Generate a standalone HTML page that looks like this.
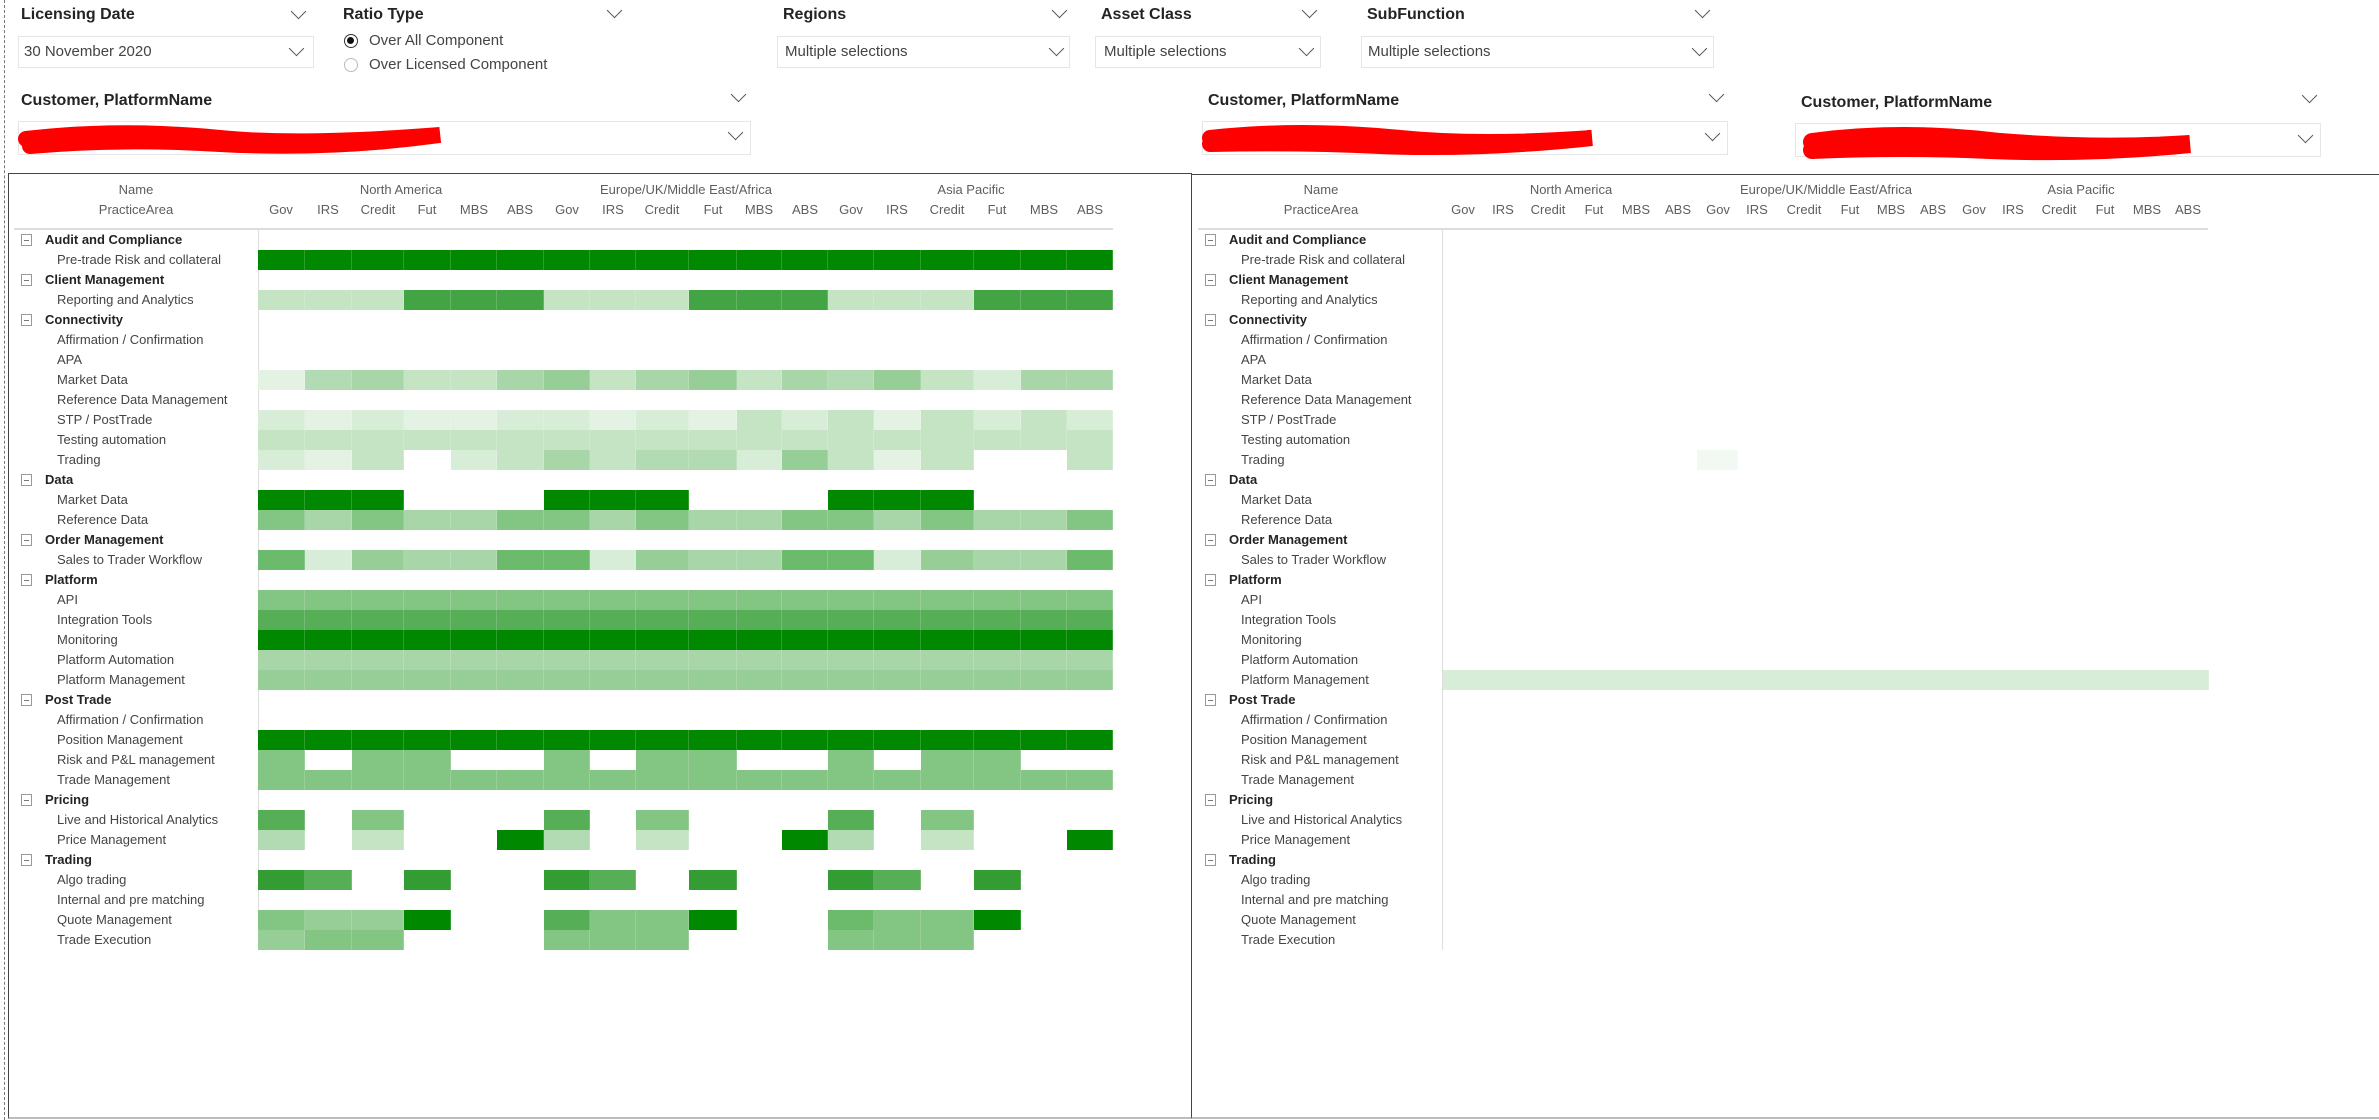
<!DOCTYPE html>
<html><head><meta charset="utf-8"><style>
*{margin:0;padding:0;box-sizing:border-box}
body{width:2379px;height:1120px;background:#fff;position:relative;overflow:hidden;font-family:"Liberation Sans",sans-serif;color:#252423}
.a{position:absolute;white-space:nowrap}
.t{font-size:16px;font-weight:bold;color:#252423}
.chev{position:absolute;width:11px;height:11px;border-right:1.5px solid #555;border-bottom:1.5px solid #555;transform:rotate(45deg)}
.box{position:absolute;border:1px solid #e6e6e6;background:#fff}
.bt{position:absolute;font-size:15px;color:#444;white-space:nowrap}
.lbl{position:absolute;font-size:13px;line-height:20px;color:#444;white-space:nowrap}
.lbl div{height:20px}
.lbl .g{font-weight:bold;color:#252423;padding-left:0}
.ic{display:inline-block;width:11px;height:12px;border:1px solid #999;position:absolute;margin-top:4px}
.ic:after{content:"";position:absolute;left:2px;right:2px;top:5px;height:1px;background:#777}
.hd{position:absolute;font-size:13px;color:#605e5c;white-space:nowrap;transform:translateX(-50%)}
.cell{position:absolute;height:20px;border-right:1px solid rgba(255,255,255,0.18)}
</style></head><body>
<div class="a" style="left:4px;top:0;width:0;height:1120px;border-left:1px dashed #777"></div>

<div class="a t" style="left:21px;top:6px">Licensing Date</div><div class="chev" style="left:293px;top:6px"></div>
<div class="box" style="left:18px;top:36px;width:296px;height:32px"></div><div class="bt" style="left:24px;top:43px">30 November 2020</div><div class="chev" style="left:291px;top:43px"></div>

<div class="a t" style="left:343px;top:6px">Ratio Type</div><div class="chev" style="left:609px;top:5px"></div>
<div class="a" style="left:344px;top:34px;width:14px;height:14px;border-radius:50%;border:1.5px solid #333"><div style="position:absolute;left:2px;top:2px;width:7px;height:7px;border-radius:50%;background:#111"></div></div>
<div class="bt" style="left:369px;top:32px">Over All Component</div>
<div class="a" style="left:344px;top:58px;width:14px;height:14px;border-radius:50%;border:1px solid #bbb"></div>
<div class="bt" style="left:369px;top:56px">Over Licensed Component</div>

<div class="a t" style="left:783px;top:6px">Regions</div><div class="chev" style="left:1054px;top:5px"></div>
<div class="box" style="left:777px;top:36px;width:293px;height:32px"></div><div class="bt" style="left:785px;top:43px">Multiple selections</div><div class="chev" style="left:1051px;top:43px"></div>

<div class="a t" style="left:1101px;top:6px">Asset Class</div><div class="chev" style="left:1304px;top:5px"></div>
<div class="box" style="left:1095px;top:36px;width:226px;height:32px"></div><div class="bt" style="left:1104px;top:43px">Multiple selections</div><div class="chev" style="left:1301px;top:43px"></div>

<div class="a t" style="left:1367px;top:6px">SubFunction</div><div class="chev" style="left:1697px;top:5px"></div>
<div class="box" style="left:1361px;top:36px;width:353px;height:32px"></div><div class="bt" style="left:1368px;top:43px">Multiple selections</div><div class="chev" style="left:1694px;top:43px"></div>

<div class="a t" style="left:21px;top:92px">Customer, PlatformName</div><div class="chev" style="left:733px;top:89px"></div>
<div class="box" style="left:18px;top:121px;width:733px;height:34px"></div><div class="chev" style="left:730px;top:127px"></div>
<div class="a t" style="left:1208px;top:92px">Customer, PlatformName</div><div class="chev" style="left:1711px;top:89px"></div>
<div class="box" style="left:1202px;top:121px;width:526px;height:34px"></div><div class="chev" style="left:1707px;top:128px"></div>
<div class="a t" style="left:1801px;top:94px">Customer, PlatformName</div><div class="chev" style="left:2304px;top:90px"></div>
<div class="box" style="left:1795px;top:123px;width:526px;height:34px"></div><div class="chev" style="left:2300px;top:130px"></div>

<svg class="a" style="left:0;top:0" width="2379" height="180">
<path d="M26 139 Q120 128 220 138 Q300 146 440 135 Q330 150 220 144 Q120 138 30 146" stroke="#f00" stroke-width="16" fill="none" stroke-linecap="round"/>
<path d="M1210 138 Q1300 128 1400 138 Q1480 146 1592 138 Q1480 150 1380 146 Q1300 142 1210 144" stroke="#f00" stroke-width="16" fill="none" stroke-linecap="round"/>
<path d="M1812 142 Q1900 130 2000 142 Q2100 150 2190 144 Q2090 154 1990 150 Q1900 146 1812 150" stroke="#f00" stroke-width="18" fill="none" stroke-linecap="round"/>
</svg>

<div class="a" style="left:8px;top:173px;width:1184px;height:946px;border:1px solid #444;border-bottom:2px solid #bbb"></div>
<div class="a" style="left:1191px;top:174px;width:1188px;height:945px;border-left:1px solid #444;border-top:1px solid #444;border-bottom:2px solid #bbb"></div>

<div class="hd" style="left:136px;top:182px">Name</div>
<div class="hd" style="left:136px;top:202px">PracticeArea</div>
<div class="hd" style="left:401px;top:182px">North America</div>
<div class="hd" style="left:686px;top:182px">Europe/UK/Middle East/Africa</div>
<div class="hd" style="left:971px;top:182px">Asia Pacific</div>
<div class="a" style="left:14px;top:228px;width:1099px;height:2px;background:#ddd"></div>
<div class="a" style="left:258px;top:230px;width:1px;height:720px;background:#ddd"></div>

<div class="hd" style="left:1321px;top:182px">Name</div>
<div class="hd" style="left:1321px;top:202px">PracticeArea</div>
<div class="hd" style="left:1571px;top:182px">North America</div>
<div class="hd" style="left:1826px;top:182px">Europe/UK/Middle East/Africa</div>
<div class="hd" style="left:2081px;top:182px">Asia Pacific</div>
<div class="a" style="left:1198px;top:228px;width:1010px;height:2px;background:#ddd"></div>
<div class="a" style="left:1442px;top:230px;width:1px;height:720px;background:#ddd"></div>

<div class="lbl" style="left:21px;top:230px">
<div class="g"><span class="ic"></span><span style="padding-left:24px">Audit and Compliance</span></div>
<div style="padding-left:36px">Pre-trade Risk and collateral</div>
<div class="g"><span class="ic"></span><span style="padding-left:24px">Client Management</span></div>
<div style="padding-left:36px">Reporting and Analytics</div>
<div class="g"><span class="ic"></span><span style="padding-left:24px">Connectivity</span></div>
<div style="padding-left:36px">Affirmation / Confirmation</div>
<div style="padding-left:36px">APA</div>
<div style="padding-left:36px">Market Data</div>
<div style="padding-left:36px">Reference Data Management</div>
<div style="padding-left:36px">STP / PostTrade</div>
<div style="padding-left:36px">Testing automation</div>
<div style="padding-left:36px">Trading</div>
<div class="g"><span class="ic"></span><span style="padding-left:24px">Data</span></div>
<div style="padding-left:36px">Market Data</div>
<div style="padding-left:36px">Reference Data</div>
<div class="g"><span class="ic"></span><span style="padding-left:24px">Order Management</span></div>
<div style="padding-left:36px">Sales to Trader Workflow</div>
<div class="g"><span class="ic"></span><span style="padding-left:24px">Platform</span></div>
<div style="padding-left:36px">API</div>
<div style="padding-left:36px">Integration Tools</div>
<div style="padding-left:36px">Monitoring</div>
<div style="padding-left:36px">Platform Automation</div>
<div style="padding-left:36px">Platform Management</div>
<div class="g"><span class="ic"></span><span style="padding-left:24px">Post Trade</span></div>
<div style="padding-left:36px">Affirmation / Confirmation</div>
<div style="padding-left:36px">Position Management</div>
<div style="padding-left:36px">Risk and P&amp;L management</div>
<div style="padding-left:36px">Trade Management</div>
<div class="g"><span class="ic"></span><span style="padding-left:24px">Pricing</span></div>
<div style="padding-left:36px">Live and Historical Analytics</div>
<div style="padding-left:36px">Price Management</div>
<div class="g"><span class="ic"></span><span style="padding-left:24px">Trading</span></div>
<div style="padding-left:36px">Algo trading</div>
<div style="padding-left:36px">Internal and pre matching</div>
<div style="padding-left:36px">Quote Management</div>
<div style="padding-left:36px">Trade Execution</div>
</div>

<div class="lbl" style="left:1205px;top:230px">
<div class="g"><span class="ic"></span><span style="padding-left:24px">Audit and Compliance</span></div>
<div style="padding-left:36px">Pre-trade Risk and collateral</div>
<div class="g"><span class="ic"></span><span style="padding-left:24px">Client Management</span></div>
<div style="padding-left:36px">Reporting and Analytics</div>
<div class="g"><span class="ic"></span><span style="padding-left:24px">Connectivity</span></div>
<div style="padding-left:36px">Affirmation / Confirmation</div>
<div style="padding-left:36px">APA</div>
<div style="padding-left:36px">Market Data</div>
<div style="padding-left:36px">Reference Data Management</div>
<div style="padding-left:36px">STP / PostTrade</div>
<div style="padding-left:36px">Testing automation</div>
<div style="padding-left:36px">Trading</div>
<div class="g"><span class="ic"></span><span style="padding-left:24px">Data</span></div>
<div style="padding-left:36px">Market Data</div>
<div style="padding-left:36px">Reference Data</div>
<div class="g"><span class="ic"></span><span style="padding-left:24px">Order Management</span></div>
<div style="padding-left:36px">Sales to Trader Workflow</div>
<div class="g"><span class="ic"></span><span style="padding-left:24px">Platform</span></div>
<div style="padding-left:36px">API</div>
<div style="padding-left:36px">Integration Tools</div>
<div style="padding-left:36px">Monitoring</div>
<div style="padding-left:36px">Platform Automation</div>
<div style="padding-left:36px">Platform Management</div>
<div class="g"><span class="ic"></span><span style="padding-left:24px">Post Trade</span></div>
<div style="padding-left:36px">Affirmation / Confirmation</div>
<div style="padding-left:36px">Position Management</div>
<div style="padding-left:36px">Risk and P&amp;L management</div>
<div style="padding-left:36px">Trade Management</div>
<div class="g"><span class="ic"></span><span style="padding-left:24px">Pricing</span></div>
<div style="padding-left:36px">Live and Historical Analytics</div>
<div style="padding-left:36px">Price Management</div>
<div class="g"><span class="ic"></span><span style="padding-left:24px">Trading</span></div>
<div style="padding-left:36px">Algo trading</div>
<div style="padding-left:36px">Internal and pre matching</div>
<div style="padding-left:36px">Quote Management</div>
<div style="padding-left:36px">Trade Execution</div>
</div>

<div class="hd" style="left:281px;top:202px">Gov</div><div class="hd" style="left:328px;top:202px">IRS</div><div class="hd" style="left:378px;top:202px">Credit</div><div class="hd" style="left:427px;top:202px">Fut</div><div class="hd" style="left:474px;top:202px">MBS</div><div class="hd" style="left:520px;top:202px">ABS</div>
<div class="hd" style="left:567px;top:202px">Gov</div><div class="hd" style="left:613px;top:202px">IRS</div><div class="hd" style="left:662px;top:202px">Credit</div><div class="hd" style="left:713px;top:202px">Fut</div><div class="hd" style="left:759px;top:202px">MBS</div><div class="hd" style="left:805px;top:202px">ABS</div>
<div class="hd" style="left:851px;top:202px">Gov</div><div class="hd" style="left:897px;top:202px">IRS</div><div class="hd" style="left:947px;top:202px">Credit</div><div class="hd" style="left:997px;top:202px">Fut</div><div class="hd" style="left:1044px;top:202px">MBS</div><div class="hd" style="left:1090px;top:202px">ABS</div>

<div class="hd" style="left:1463px;top:202px">Gov</div><div class="hd" style="left:1503px;top:202px">IRS</div><div class="hd" style="left:1548px;top:202px">Credit</div><div class="hd" style="left:1594px;top:202px">Fut</div><div class="hd" style="left:1636px;top:202px">MBS</div><div class="hd" style="left:1678px;top:202px">ABS</div>
<div class="hd" style="left:1718px;top:202px">Gov</div><div class="hd" style="left:1757px;top:202px">IRS</div><div class="hd" style="left:1804px;top:202px">Credit</div><div class="hd" style="left:1850px;top:202px">Fut</div><div class="hd" style="left:1891px;top:202px">MBS</div><div class="hd" style="left:1933px;top:202px">ABS</div>
<div class="hd" style="left:1974px;top:202px">Gov</div><div class="hd" style="left:2013px;top:202px">IRS</div><div class="hd" style="left:2059px;top:202px">Credit</div><div class="hd" style="left:2105px;top:202px">Fut</div><div class="hd" style="left:2147px;top:202px">MBS</div><div class="hd" style="left:2188px;top:202px">ABS</div>

<div id="cells"></div>
<script>
var X=[258,304.5,352,404,451,497,544,590,636,689,737,782,828,874,921,974,1021,1067,1113];
var P={D:'#008800',a:'#e3f2e3',b:'#d8edd8',c:'#c4e4c4',d:'#b3dbb3',e:'#a8d6a8',f:'#97ce97',g:'#83c583',h:'#6cba6c',i:'#56ae56',j:'#42a442',k:'#339c33',_:null};
var R={
1:'DDDDDDDDDDDDDDDDDD',
3:'cccjjjcccjjjcccjjj',
7:'adeccefcefcedfcbee',
9:'babaabbabacbcacbcb',
10:'cccccccccccccccccc',
11:'bac_bcecddbfcac__c',
13:'DDD___DDD___DDD___',
14:'gegeeggegeeggegeeg',
16:'hbfeehhbfeehhbfeeh',
18:'gggggggggggggggggg',
19:'iiiiiiiiiiiiiiiiii',
20:'DDDDDDDDDDDDDDDDDD',
21:'eeeeeeeeeeeeeeeeee',
22:'ffffffffffffffffff',
25:'DDDDDDDDDDDDDDDDDD',
26:'g_gg__g_gg__g_gg__',
27:'gggggggggggggggggg',
29:'i_g___i_g___i_g___',
30:'d_c__Dd_c__Dd_c__D',
32:'ki_k__ki_k__ki_k__',
34:'gffD__iggD__hggD__',
35:'fgg___ggg___ggg___'};
var h='';
for(var r in R){var s=R[r];for(var k=0;k<18;k++){var c=P[s[k]];if(!c)continue;
h+='<div class="cell" style="left:'+X[k]+'px;width:'+(X[k+1]-X[k])+'px;top:'+(230+r*20)+'px;background:'+c+'"></div>';}}
h+='<div class="cell" style="left:1443px;width:766px;top:670px;background:#d8edd8"></div>';
h+='<div class="cell" style="left:1697px;width:41px;top:450px;background:#f2f9f2"></div>';
document.getElementById('cells').innerHTML=h;
</script>
</body></html>
